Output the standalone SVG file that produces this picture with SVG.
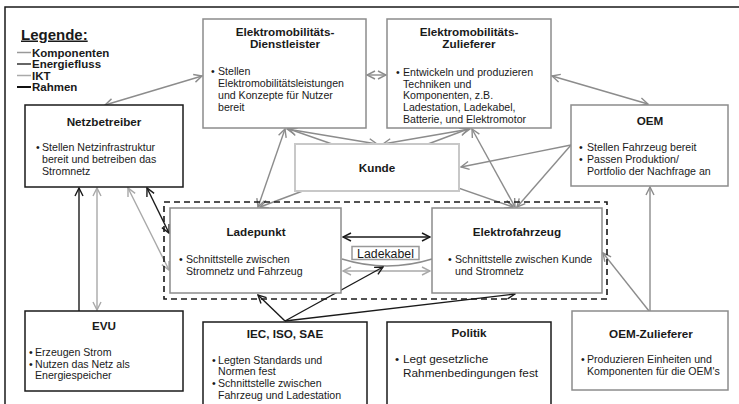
<svg xmlns="http://www.w3.org/2000/svg" width="739" height="404" viewBox="0 0 739 404">
<defs>
<style>
text{font-family:"Liberation Sans",Arial,sans-serif;fill:#1a1a1a}
.t{font-weight:bold;font-size:11.7px;text-anchor:middle}
.b{font-size:10.6px}
.nb{fill:#fff;stroke:#1a1a1a;stroke-width:1.5}
.ng{fill:#fff;stroke:#8c8c8c;stroke-width:1.5}
.nk{fill:#fff;stroke:#c8c8c8;stroke-width:2}
.cg{fill:none;stroke:#8c8c8c;stroke-width:1.4}
.cl{fill:none;stroke:#a8a8a8;stroke-width:1.4}
.ck{fill:none;stroke:#1a1a1a;stroke-width:1.4}
.lg{font-weight:bold;font-size:11.5px}
</style>
<marker id="ag" markerUnits="userSpaceOnUse" markerWidth="10" markerHeight="10" viewBox="0 0 10 10" refX="9" refY="5" orient="auto-start-reverse"><path d="M1,1 L9,5 L1,9" fill="none" stroke="#8c8c8c" stroke-width="1.4"/></marker>
<marker id="al" markerUnits="userSpaceOnUse" markerWidth="10" markerHeight="10" viewBox="0 0 10 10" refX="9" refY="5" orient="auto-start-reverse"><path d="M1,1 L9,5 L1,9" fill="none" stroke="#a8a8a8" stroke-width="1.4"/></marker>
<marker id="ak" markerUnits="userSpaceOnUse" markerWidth="10" markerHeight="10" viewBox="0 0 10 10" refX="9" refY="5" orient="auto-start-reverse"><path d="M1,1 L9,5 L1,9" fill="none" stroke="#1a1a1a" stroke-width="1.4"/></marker>
</defs>
<rect x="0" y="0" width="739" height="404" fill="#fff"/>
<rect id="frame" x="5" y="7" width="760" height="420" fill="none" stroke="#1a1a1a" stroke-width="1.5"/>

<g id="legend">
<text x="21" y="39.5" style="font-weight:bold;font-size:15px;text-decoration:underline">Legende:</text>
<line x1="17" y1="52.5" x2="31" y2="52.5" stroke="#999" stroke-width="1.5"/>
<text class="lg" x="32" y="57">Komponenten</text>
<line x1="17" y1="64" x2="31" y2="64" stroke="#333" stroke-width="1.5"/>
<text class="lg" x="32" y="68">Energiefluss</text>
<line x1="17" y1="75.5" x2="31" y2="75.5" stroke="#aaa" stroke-width="1.5"/>
<text class="lg" x="32" y="79.5">IKT</text>
<line x1="17" y1="87" x2="31" y2="87" stroke="#111" stroke-width="2"/>
<text class="lg" x="32" y="91">Rahmen</text>
</g>

<g id="connectors">
<line class="cg" x1="105" y1="105" x2="202" y2="76" marker-start="url(#ag)" marker-end="url(#ag)"/>
<line class="cg" x1="367" y1="75" x2="386" y2="75" marker-start="url(#ag)" marker-end="url(#ag)"/>
<line class="cg" x1="552" y1="76" x2="648" y2="104" marker-start="url(#ag)" marker-end="url(#ag)"/>
<line class="cg" x1="285" y1="129" x2="258" y2="207" marker-start="url(#ag)" marker-end="url(#ag)"/>
<line class="cg" x1="287" y1="129" x2="377" y2="144" marker-start="url(#ag)" marker-end="url(#ag)"/>
<line class="cg" x1="289" y1="129" x2="513" y2="207" marker-start="url(#ag)" marker-end="url(#ag)"/>
<line class="cg" x1="470" y1="129" x2="383" y2="144" marker-start="url(#ag)" marker-end="url(#ag)"/>
<line class="cg" x1="468" y1="129" x2="260" y2="207" marker-start="url(#ag)" marker-end="url(#ag)"/>
<line class="cg" x1="472" y1="129" x2="515" y2="207" marker-start="url(#ag)" marker-end="url(#ag)"/>
<line class="cg" x1="571" y1="145" x2="461" y2="167" marker-end="url(#ag)"/>
<line class="cg" x1="571" y1="145" x2="517" y2="207" marker-end="url(#ag)"/>
<line class="cg" x1="650" y1="311" x2="650" y2="187" marker-end="url(#ag)"/>
<line class="cg" x1="649" y1="311" x2="603" y2="253" marker-end="url(#ag)"/>
<path class="cg" d="M342,259 Q387,273 432,259"/>
<line class="ck" x1="79" y1="311" x2="79" y2="188" marker-end="url(#ak)"/>
<line class="cl" x1="97" y1="188" x2="97" y2="310" marker-start="url(#al)" marker-end="url(#al)"/>
<line class="cl" x1="128" y1="188" x2="169" y2="270" marker-start="url(#al)" marker-end="url(#al)"/>
<line class="ck" x1="147" y1="188" x2="169" y2="233" marker-start="url(#ak)" marker-end="url(#ak)"/>
<line class="ck" x1="343" y1="237" x2="430" y2="237" marker-start="url(#ak)" marker-end="url(#ak)"/>
<line class="cl" x1="343" y1="271" x2="430" y2="271" marker-start="url(#al)" marker-end="url(#al)"/>
<line class="ck" x1="285" y1="321" x2="258" y2="295" marker-end="url(#ak)"/>
<line class="ck" x1="285" y1="321" x2="383" y2="267" marker-end="url(#ak)"/>
<line class="ck" x1="285" y1="321" x2="515" y2="294" marker-end="url(#ak)"/>
</g>

<rect id="system" x="164" y="202" width="443" height="97" fill="none" stroke="#1a1a1a" stroke-width="1.6" stroke-dasharray="6 4"/>

<g id="dienstleister">
<rect class="ng" x="203" y="19" width="163" height="109"/>
<text class="t" x="285" y="36">Elektromobilitäts-</text>
<text class="t" x="285" y="48">Dienstleister</text>
<text class="b" x="211" y="75">•</text>
<text class="b"><tspan x="218" y="75">Stellen</tspan><tspan x="218" y="87">Elektromobilitätsleistungen</tspan><tspan x="218" y="99">und Konzepte für Nutzer</tspan><tspan x="218" y="111">bereit</tspan></text>
</g>

<g id="zulieferer">
<rect class="ng" x="387" y="19" width="164" height="109"/>
<text class="t" x="469" y="36">Elektromobilitäts-</text>
<text class="t" x="469" y="48">Zulieferer</text>
<text class="b" x="396" y="76">•</text>
<text class="b"><tspan x="403" y="76">Entwickeln und produzieren</tspan><tspan x="403" y="87.5">Techniken und</tspan><tspan x="403" y="99">Komponenten, z.B.</tspan><tspan x="403" y="111">Ladestation, Ladekabel,</tspan><tspan x="403" y="123">Batterie, und Elektromotor</tspan></text>
</g>

<g id="netzbetreiber">
<rect class="nb" x="25" y="105" width="158" height="82"/>
<text class="t" x="104" y="126">Netzbetreiber</text>
<text class="b" x="36" y="151">•</text>
<text class="b"><tspan x="42" y="151">Stellen Netzinfrastruktur</tspan><tspan x="42" y="163">bereit und betreiben das</tspan><tspan x="42" y="175">Stromnetz</tspan></text>
</g>

<g id="oem">
<rect class="ng" x="571" y="105" width="157" height="81"/>
<text class="t" x="650" y="125">OEM</text>
<text class="b" x="579" y="151">•</text>
<text class="b" x="579" y="163">•</text>
<text class="b"><tspan x="587" y="151">Stellen Fahrzeug  bereit</tspan><tspan x="587" y="163">Passen Produktion/</tspan><tspan x="587" y="175">Portfolio der Nachfrage an</tspan></text>
</g>

<g id="kunde">
<rect class="nk" x="295" y="144" width="164" height="47"/>
<text class="t" x="377" y="172">Kunde</text>
</g>

<g id="ladepunkt">
<rect class="ng" x="170" y="208" width="171" height="85"/>
<text class="t" x="256" y="236">Ladepunkt</text>
<text class="b" x="179" y="263">•</text>
<text class="b"><tspan x="186" y="263">Schnittstelle zwischen</tspan><tspan x="186" y="275">Stromnetz und  Fahrzeug</tspan></text>
</g>

<g id="elektrofahrzeug">
<rect class="ng" x="432" y="208" width="170" height="85"/>
<text class="t" x="517" y="236">Elektrofahrzeug</text>
<text class="b" x="448" y="263">•</text>
<text class="b"><tspan x="455" y="263">Schnittstelle zwischen Kunde</tspan><tspan x="455" y="275">und Stromnetz</tspan></text>
</g>

<g id="ladekabel">
<rect x="352" y="246.5" width="67" height="13" fill="#fff" stroke="#999" stroke-width="1.5"/>
<text x="385.5" y="257.5" style="font-size:12.3px;text-anchor:middle">Ladekabel</text>
</g>

<g id="evu">
<rect class="nb" x="25" y="311" width="158" height="80"/>
<text class="t" x="104" y="330">EVU</text>
<text class="b" x="29" y="356">•</text>
<text class="b" x="29" y="367.5">•</text>
<text class="b"><tspan x="35" y="356">Erzeugen Strom</tspan><tspan x="35" y="367.5">Nutzen das Netz als</tspan><tspan x="35" y="379">Energiespeicher</tspan></text>
</g>

<g id="iec">
<rect class="nb" x="203" y="322" width="164" height="100"/>
<text class="t" x="285" y="338">IEC, ISO, SAE</text>
<text class="b" x="212" y="363.5">•</text>
<text class="b" x="212" y="387">•</text>
<text class="b"><tspan x="218" y="363.5">Legten Standards und</tspan><tspan x="218" y="375">Normen fest</tspan><tspan x="218" y="387">Schnittstelle zwischen</tspan><tspan x="218" y="399">Fahrzeug und Ladestation</tspan></text>
</g>

<g id="politik">
<rect class="nb" x="387" y="322" width="164" height="100"/>
<text class="t" x="469" y="337">Politik</text>
<text x="395" y="363" style="font-size:11.8px">•</text>
<text style="font-size:11.8px"><tspan x="403" y="363">Legt gesetzliche</tspan><tspan x="403" y="377">Rahmenbedingungen fest</tspan></text>
</g>

<g id="oem-zulieferer">
<rect class="ng" x="572" y="311" width="156" height="79"/>
<text class="t" x="651" y="338">OEM-Zulieferer</text>
<text class="b" x="581" y="363">•</text>
<text class="b"><tspan x="587" y="363">Produzieren Einheiten und</tspan><tspan x="587" y="375">Komponenten für die OEM's</tspan></text>
</g>
</svg>
